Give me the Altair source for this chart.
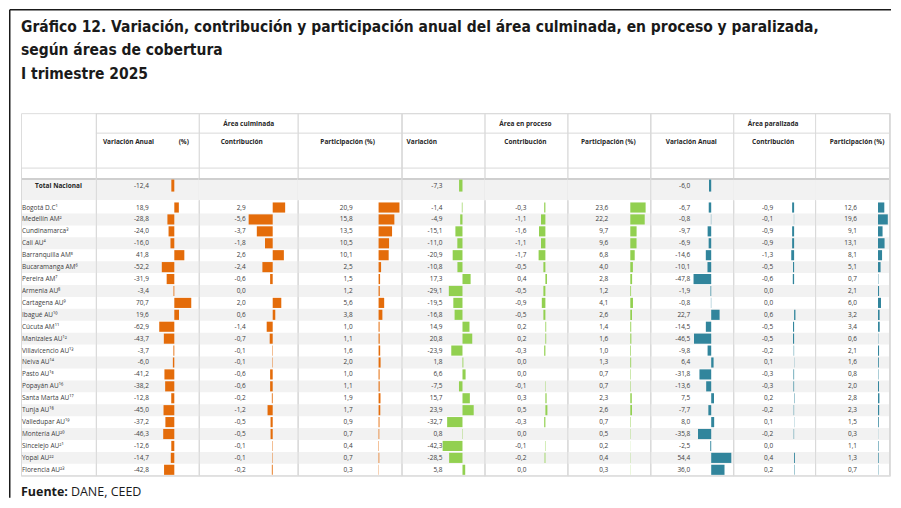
import altair as alt
import pandas as pd

# ---------------- data ----------------
names = ["Bogotá D.C¹", "Medellín AM²", "Cundinamarca³", "Cali AU⁴", "Barranquilla AM⁵",
         "Bucaramanga AM⁶", "Pereira AM⁷", "Armenia AU⁸", "Cartagena AU⁹", "Ibagué AU¹⁰",
         "Cúcuta AM¹¹", "Manizales AU¹²", "Villavicencio AU¹³", "Neiva AU¹⁴", "Pasto AU¹⁵",
         "Popayán AU¹⁶", "Santa Marta AU¹⁷", "Tunja AU¹⁸", "Valledupar AU¹⁹", "Montería AU²⁰",
         "Sincelejo AU²¹", "Yopal AU²²", "Florencia AU²³"]

cul_var = [18.9, -28.8, -24.0, -16.0, 41.8, -52.2, -31.9, -3.4, 70.7, 19.6, -62.9, -43.7,
           -3.7, -6.0, -41.2, -38.2, -12.8, -45.0, -37.2, -46.3, -12.6, -14.7, -42.8]
cul_con = [2.9, -5.6, -3.7, -1.8, 2.6, -2.4, -0.6, 0.0, 2.0, 0.6, -1.4, -0.7,
           -0.1, -0.1, -0.6, -0.6, -0.2, -1.2, -0.5, -0.5, -0.1, -0.1, -0.2]
cul_par = [20.9, 15.8, 13.5, 10.5, 10.1, 2.5, 1.5, 1.2, 5.6, 3.8, 1.0, 1.1,
           1.6, 2.0, 1.0, 1.1, 1.9, 1.7, 0.9, 0.7, 0.4, 0.7, 0.3]
pro_var = [-1.4, -4.9, -15.1, -11.0, -20.9, -10.8, 17.3, -29.1, -19.5, -16.8, 14.9, 20.8,
           -23.9, 1.8, 6.6, -7.5, 15.7, 23.9, -32.7, 0.8, -42.3, -28.5, 5.8]
pro_con = [-0.3, -1.1, -1.6, -1.1, -1.7, -0.5, 0.4, -0.5, -0.9, -0.5, 0.2, 0.2,
           -0.3, 0.0, 0.0, -0.1, 0.3, 0.5, -0.3, 0.0, -0.1, -0.2, 0.0]
pro_par = [23.6, 22.2, 9.7, 9.6, 6.8, 4.0, 2.8, 1.2, 4.1, 2.6, 1.4, 1.6,
           1.0, 1.3, 0.7, 0.7, 2.3, 2.6, 0.7, 0.5, 0.2, 0.4, 0.3]
par_var = [-6.7, -0.8, -9.7, -6.9, -14.6, -10.1, -47.8, -1.9, -0.8, 22.7, -14.5, -46.5,
           -9.8, 6.4, -31.8, -13.6, 7.5, -7.7, 8.0, -35.8, -2.5, 54.4, 36.0]
par_con = [-0.9, -0.1, -0.9, -0.9, -1.3, -0.5, -0.6, 0.0, 0.0, 0.6, -0.5, -0.5,
           -0.2, 0.1, -0.3, -0.3, 0.2, -0.2, 0.1, -0.2, 0.0, 0.4, 0.2]
par_par = [12.6, 19.6, 9.1, 13.1, 8.1, 5.1, 0.7, 2.1, 6.0, 3.2, 3.4, 0.6,
           2.1, 1.6, 0.8, 2.0, 2.8, 2.3, 1.5, 0.3, 1.1, 1.3, 0.7]

total_name = "Total Nacional"
total_cul_var = -12.4
total_pro_var = -7.3
total_par_var = -6.0

title_lines = ["Gráfico 12. Variación, contribución y participación anual del área culminada, en proceso y paralizada,",
               "según áreas de cobertura",
               "I trimestre 2025"]


def fmt(v):
    return f"{v:.1f}".replace(".", ",")


series = {"cul_var": cul_var, "cul_con": cul_con, "cul_par": cul_par,
          "pro_var": pro_var, "pro_con": pro_con, "pro_par": pro_par,
          "par_var": par_var, "par_con": par_con, "par_par": par_par}
df = pd.DataFrame({"name": names, **series})
df["stripe"] = [i % 2 for i in range(len(names))]
for k in series:
    df[k + "_lbl"] = df[k].map(fmt)

tot = pd.DataFrame({"name": [total_name], "cul_var": [total_cul_var],
                    "pro_var": [total_pro_var], "par_var": [total_par_var]})
for k in ["cul_var", "pro_var", "par_var"]:
    tot[k + "_lbl"] = tot[k].map(fmt)

one = pd.DataFrame({"k": [0]})

# ---------------- style ----------------
H = 363
ROW_RANGE = [88.5, 363]
TOT_RANGE = [64.5, 80.5]
FONT = "Open Sans"
FS = 6.5
TXT = "#404040"
HDR = "#262626"
GRID = "#d9d9d9"
STRIPE = "#f2f2f2"
ORANGE = "#E46C0A"
GREEN = "#92D050"
TEAL = "#31859C"


def y_rows():
    return alt.Y("name:N", axis=None,
                 scale=alt.Scale(domain=names, range=ROW_RANGE, paddingInner=0, paddingOuter=0))


def y_tot():
    return alt.Y("name:N", axis=None,
                 scale=alt.Scale(domain=[total_name], range=TOT_RANGE, paddingInner=0, paddingOuter=0))


def hline(y, x1, x2, color=GRID, sw=1.0):
    return alt.Chart(one).mark_rule(color=color, strokeWidth=sw).encode(
        y=alt.value(y), x=alt.value(x1), x2=alt.value(x2))


def vline(x, y1, y2, color=GRID, sw=1.0):
    return alt.Chart(one).mark_rule(color=color, strokeWidth=sw).encode(
        x=alt.value(x), y=alt.value(y1), y2=alt.value(y2))


def label(txt, x, y, align="center", bold=True, size=FS, color=HDR, font=FONT):
    return alt.Chart(one).mark_text(text=txt, align=align, baseline="middle", font=font,
                                    fontSize=size, fontWeight="bold" if bold else "normal",
                                    color=color).encode(x=alt.value(x), y=alt.value(y))


def backgrounds(w):
    return [
        alt.Chart(df).transform_filter("datum.stripe == 1").mark_rect(color=STRIPE).encode(
            y=y_rows(), x=alt.value(0), x2=alt.value(w)),
        alt.Chart(one).mark_rect(color=STRIPE).encode(
            x=alt.value(0), x2=alt.value(w), y=alt.value(66), y2=alt.value(87)),
    ]


def hlines(w, header=True):
    out = []
    if header:
        out += [hline(0.5, 0, w), hline(20, 0, w)]
    out += [hline(55, 0, w), hline(66, 0, w, "#cfcfcf", 2), hline(363, 0, w)]
    return out


def value_column(key, w, tx, dom, rng, color, left_full, headers, total=False, right_edge=False):
    xs = alt.Scale(domain=dom, range=rng, nice=False, zero=False)
    layers = backgrounds(w) + hlines(w)
    layers.append(vline(0.5, 0 if left_full else 88, H))
    if right_edge:
        layers.append(vline(w - 0.5, 0, H))
    layers.append(
        alt.Chart(df).mark_text(align="right", baseline="middle", font=FONT, fontSize=FS, color=TXT)
        .encode(y=y_rows(), x=alt.value(tx), text=alt.Text(f"{key}_lbl:N")))
    layers.append(
        alt.Chart(df).mark_bar(color=color, height={"band": 0.85})
        .encode(y=y_rows(), x=alt.X(f"{key}:Q", scale=xs, axis=None), x2=alt.datum(0)))
    if total:
        layers.append(
            alt.Chart(tot).mark_text(align="right", baseline="middle", font=FONT, fontSize=FS, color=TXT)
            .encode(y=y_tot(), x=alt.value(tx), text=alt.Text(f"{key}_lbl:N")))
        layers.append(
            alt.Chart(tot).mark_bar(color=color, height={"band": 0.75})
            .encode(y=y_tot(), x=alt.X(f"{key}:Q", scale=xs, axis=None), x2=alt.datum(0)))
    layers += headers
    return alt.layer(*layers).resolve_scale(x="independent", y="independent").properties(width=w, height=H)


# ---------------- name column (with title, frame, source) ----------------
NW = 75
name_layers = backgrounds(NW) + hlines(NW, header=False)
name_layers.append(vline(0.5, 55, H))
name_layers.append(
    alt.Chart(df).mark_text(align="left", baseline="middle", font=FONT, fontSize=FS, color=TXT)
    .encode(y=y_rows(), x=alt.value(1), text="name:N"))
name_layers.append(
    alt.Chart(tot).mark_text(align="center", baseline="middle", font=FONT, fontSize=FS,
                             fontWeight="bold", color=HDR)
    .encode(y=y_tot(), x=alt.value(37.5), text="name:N"))
# frame
name_layers.append(hline(-103.5, -11.25, 871, "#1a1a1a", 1.5))
name_layers.append(vline(-11.25, -103.5, 385, "#1a1a1a", 1.5))
# title
TFONT = "Liberation Sans Narrow, DejaVu Sans Condensed, Roboto"
for txt, yy in zip(title_lines, [-86, -63, -39]):
    name_layers.append(label(txt, 0, yy, align="left", bold=True, size=15.5, color="#1a1a1a", font=TFONT))
# source
name_layers.append(label("Fuente:", 0, 379, align="left", bold=True, size=12.5, color="#1a1a1a"))
name_layers.append(label("DANE, CEED", 50, 379, align="left", bold=False, size=12.5, color="#1a1a1a"))
name_col = alt.layer(*name_layers).resolve_scale(x="independent", y="independent").properties(width=NW, height=H)

# ---------------- value columns ----------------
c1 = value_column("cul_var", 103, 53, [-100, 80], [54.5, 97.7], ORANGE, True,
                  [label("Variación Anual", 7, 29, align="left"), label("(%)", 88, 29)], total=True)
c2 = value_column("cul_con", 99, 47, [-6, 4], [48.2, 91.2], ORANGE, False,
                  [label("Área culminada", 50, 11), label("Contribución", 43, 29)])
c3 = value_column("cul_par", 104, 55, [0, 21], [81, 102], ORANGE, False,
                  [label("Participación (%)", 50, 29)])
c4 = value_column("pro_var", 83, 41, [-45, 45], [39.85, 82.15], GREEN, True,
                  [label("Variación", 5, 29, align="left")], total=True)
c5 = value_column("pro_con", 83, 42, [-2, 2], [53, 69], GREEN, False,
                  [label("Área en proceso", 41, 11), label("Contribución", 41, 29)])
c6 = value_column("pro_par", 83, 41, [0, 25], [63, 79.25], GREEN, False,
                  [label("Participación (%)", 41, 29)])
c7 = value_column("par_var", 83, 40, [-50, 60], [42.5, 83.2], TEAL, True,
                  [label("Variación Anual", 41, 29)], total=True)
c8 = value_column("par_con", 82, 40, [-2, 1], [56.6, 63.2], TEAL, False,
                  [label("Área paralizada", 40, 11), label("Contribución", 40, 29)])
c9 = value_column("par_par", 75, 42, [0, 20], [63, 73], TEAL, False,
                  [label("Participación (%)", 42, 29)], right_edge=True)

chart = alt.hconcat(name_col, c1, c2, c3, c4, c5, c6, c7, c8, c9, spacing=0, bounds="flush").properties(
    padding={"left": 0, "top": 0, "right": 0, "bottom": 0}
).configure_view(stroke=None).configure(background="white")

chart.save("out.html", embed_options={"renderer": "svg", "actions": False})
